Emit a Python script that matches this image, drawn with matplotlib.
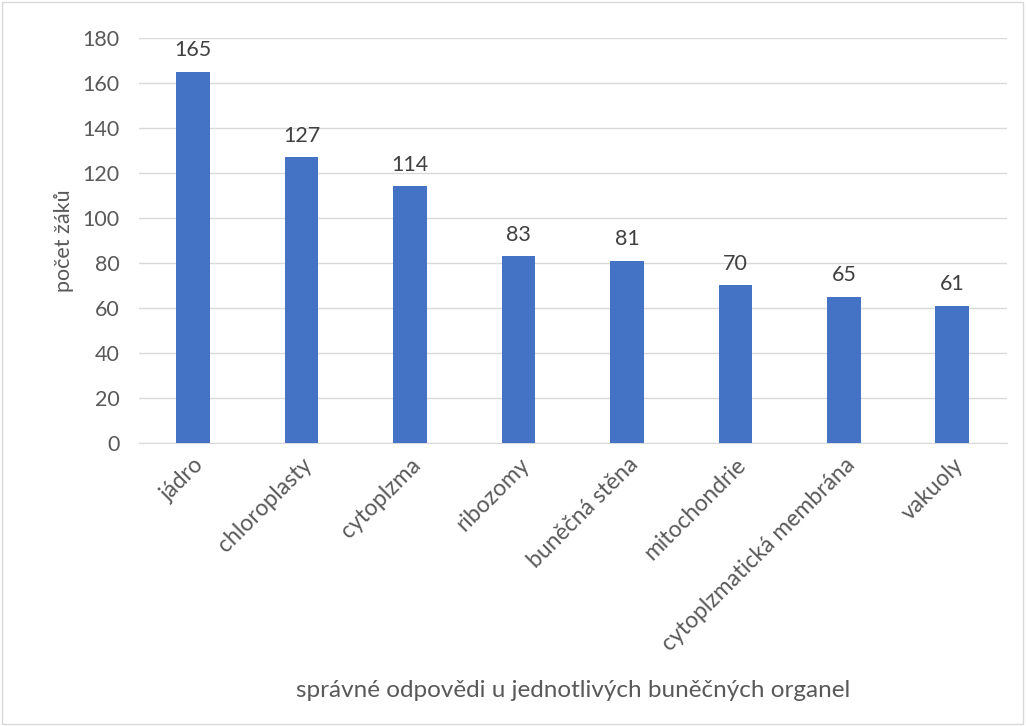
import matplotlib.pyplot as plt
from matplotlib.patches import Rectangle

# data
organely = ['jádro', 'chloroplasty', 'cytoplzma', 'ribozomy', 'buněčná stěna',
            'mitochondrie', 'cytoplzmatická membrána', 'vakuoly']
pocet = [165, 127, 114, 83, 81, 70, 65, 61]
y_ticks = [0, 20, 40, 60, 80, 100, 120, 140, 160, 180]

plt.rcParams['font.family'] = ['Lato', 'DejaVu Sans']

fig = plt.figure(figsize=(10.26, 7.26), dpi=100)
ax = fig.add_axes([0.1355, 0.390, 0.8455, 0.558])

x = range(len(organely))
bars = ax.bar(x, pocet, width=0.31, color='#4472C4', zorder=3)

# value labels above bars
for xi, v in zip(x, pocet):
    ax.text(xi, v + 5, str(v), ha='center', va='bottom', fontsize=15.5, color='#404040')

ax.set_ylim(0, 180)
ax.set_xlim(-0.5, len(organely) - 0.5)
ax.set_yticks(y_ticks)
ax.tick_params(axis='y', length=0, labelsize=15.5, labelcolor='#595959', pad=14)
ax.set_xticks(list(x))
ax.set_xticklabels(organely, rotation=45, ha='right', rotation_mode='anchor',
                   fontsize=16.5, color='#595959')
ax.tick_params(axis='x', length=0, pad=8)

ax.grid(axis='y', color='#D9D9D9', linewidth=1, zorder=0)
for s in ['top', 'right', 'left']:
    ax.spines[s].set_visible(False)
ax.spines['bottom'].set_color('#D9D9D9')

ax.set_ylabel('počet žáků', fontsize=15.5, color='#595959', labelpad=6)
fig.text(0.5585, 0.040, 'správné odpovědi u jednotlivých buněčných organel',
         ha='center', fontsize=17.5, color='#595959')

# chart frame
fig.patches.append(Rectangle((0.002, 0.003), 0.995, 0.994, transform=fig.transFigure,
                             fill=False, edgecolor='#D9D9D9', linewidth=1))

fig.savefig('out.png', dpi=100)
